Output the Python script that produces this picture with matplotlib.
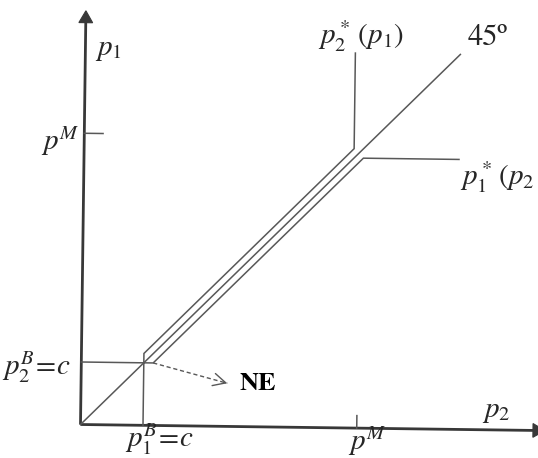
import matplotlib
matplotlib.use("Agg")
import matplotlib.pyplot as plt
from matplotlib.transforms import Affine2D
from matplotlib.patches import Polygon, FancyArrowPatch

plt.rcParams["mathtext.fontset"] = "stix"
plt.rcParams["font.family"] = ["STIXGeneral", "DejaVu Serif"]

# Prices measured in units of the marginal cost c
c = 1.0
p_monopoly_on_p2 = 4.42      # p^M mark on the horizontal axis
p_monopoly_on_p1 = 4.66      # p^M mark on the vertical axis
p1_axis_top = 6.45
p2_axis_end = 7.24

# 45-degree line
diag_x = [0.0, 6.0]
diag_y = [0.0, 6.0]

# best response of firm 2, p2*(p1)
br2_x = [1.0, 1.0, 4.32, 4.32]
br2_y = [1.0, 1.15, 4.47, 6.0]

# best response of firm 1, p1*(p2)
br1_x = [1.0, 1.15, 4.47, 6.0]
br1_y = [1.0, 1.0, 4.32, 4.32]

# Nash equilibrium pointer
ne_from = (1.15, 1.0)
ne_to = (2.34, 0.69)

AXIS = "#383838"
LINE = "#585858"
TEXT = "#262626"

fig = plt.figure(figsize=(5.38, 4.58), dpi=100)
fig.patch.set_facecolor("white")
ax = fig.add_axes([0, 0, 1, 1])
ax.set_xlim(-1.288, 7.32)
ax.set_ylim(-0.536, 6.792)
ax.axis("off")

# whole drawing sits slightly tilted on the page
tilt = Affine2D().rotate_deg_around(80.5, 33.5, -0.75)
T = ax.transData + tilt

# axes with arrowheads
ax.plot([0, 0], [0, p1_axis_top], color=AXIS, lw=2.0, transform=T, solid_capstyle="butt")
ax.plot([0, p2_axis_end + 0.05], [0, 0], color=AXIS, lw=2.0, transform=T, solid_capstyle="butt")
ax.add_patch(Polygon([(-0.11, p1_axis_top - 0.02), (0.11, p1_axis_top - 0.02), (0.0, p1_axis_top + 0.17)],
                     closed=True, facecolor=AXIS, edgecolor=AXIS, lw=0.8, transform=T))
ax.add_patch(Polygon([(p2_axis_end, -0.11), (p2_axis_end, 0.11), (p2_axis_end + 0.19, 0.0)],
                     closed=True, facecolor=AXIS, edgecolor=AXIS, lw=0.8, transform=T))

# p^M tick marks
ax.plot([0, 0.3], [p_monopoly_on_p1, p_monopoly_on_p1], color=LINE, lw=1.1, transform=T)
ax.plot([p_monopoly_on_p2, p_monopoly_on_p2], [0, 0.2], color=LINE, lw=1.1, transform=T)

# marginal-cost guides
ax.plot([0, c], [c, c], color=LINE, lw=1.1, transform=T)
ax.plot([c, c], [0, c], color=LINE, lw=1.1, transform=T)

# 45-degree line and best responses
ax.plot(diag_x, diag_y, color=LINE, lw=1.1, transform=T)
ax.plot(br2_x, br2_y, color=LINE, lw=1.1, transform=T, solid_joinstyle="miter")
ax.plot(br1_x, br1_y, color=LINE, lw=1.1, transform=T, solid_joinstyle="miter")

# dashed pointer to the equilibrium
ax.plot([ne_from[0], ne_to[0]], [ne_from[1], ne_to[1]], color=LINE, lw=1.0,
        ls=(0, (3, 2)), transform=T)
dx = ne_to[0] - ne_from[0]
dy = ne_to[1] - ne_from[1]
ax.add_patch(FancyArrowPatch((ne_to[0] - 0.05 * dx, ne_to[1] - 0.05 * dy), ne_to,
                             arrowstyle="->,head_length=9,head_width=4.5",
                             color=LINE, lw=1.0, transform=T, shrinkA=0, shrinkB=0))

fs = 21
ax.text(0.155, 5.92, r"$p_1$", fontsize=fs, color=TEXT, ha="left", va="baseline", transform=T)
ax.text(-0.07, 4.39, r"$p^M$", fontsize=fs, color=TEXT, ha="right", va="baseline", transform=T)
ax.text(-0.18, 0.79, r"$p_2^B\!=\!c$", fontsize=fs, color=TEXT, ha="right", va="baseline", transform=T)
ax.text(0.72, -0.35, r"$p_1^B\!=\!c$", fontsize=fs, color=TEXT, ha="left", va="baseline", transform=T)
ax.text(4.28, -0.35, r"$p^M$", fontsize=fs, color=TEXT, ha="left", va="baseline", transform=T)
ax.text(6.42, 0.2, r"$p_2$", fontsize=fs, color=TEXT, ha="left", va="baseline", transform=T)
ax.text(3.72, 6.14, r"$p_2^*\,(p_1)$", fontsize=fs, color=TEXT, ha="left", va="baseline", transform=T)
ax.text(6.12, 6.15, "45º", fontsize=22, color=TEXT, ha="left", va="baseline", transform=T)
ax.text(6.02, 3.91, r"$p_1^*\!\;(p_2$", fontsize=fs, color=TEXT, ha="left", va="baseline", transform=T)
ax.text(2.54, 0.59, "NE", fontsize=19, color="black", fontweight="bold", ha="left", va="baseline",
        transform=T)

fig.savefig("out.png", dpi=100, facecolor="white")
